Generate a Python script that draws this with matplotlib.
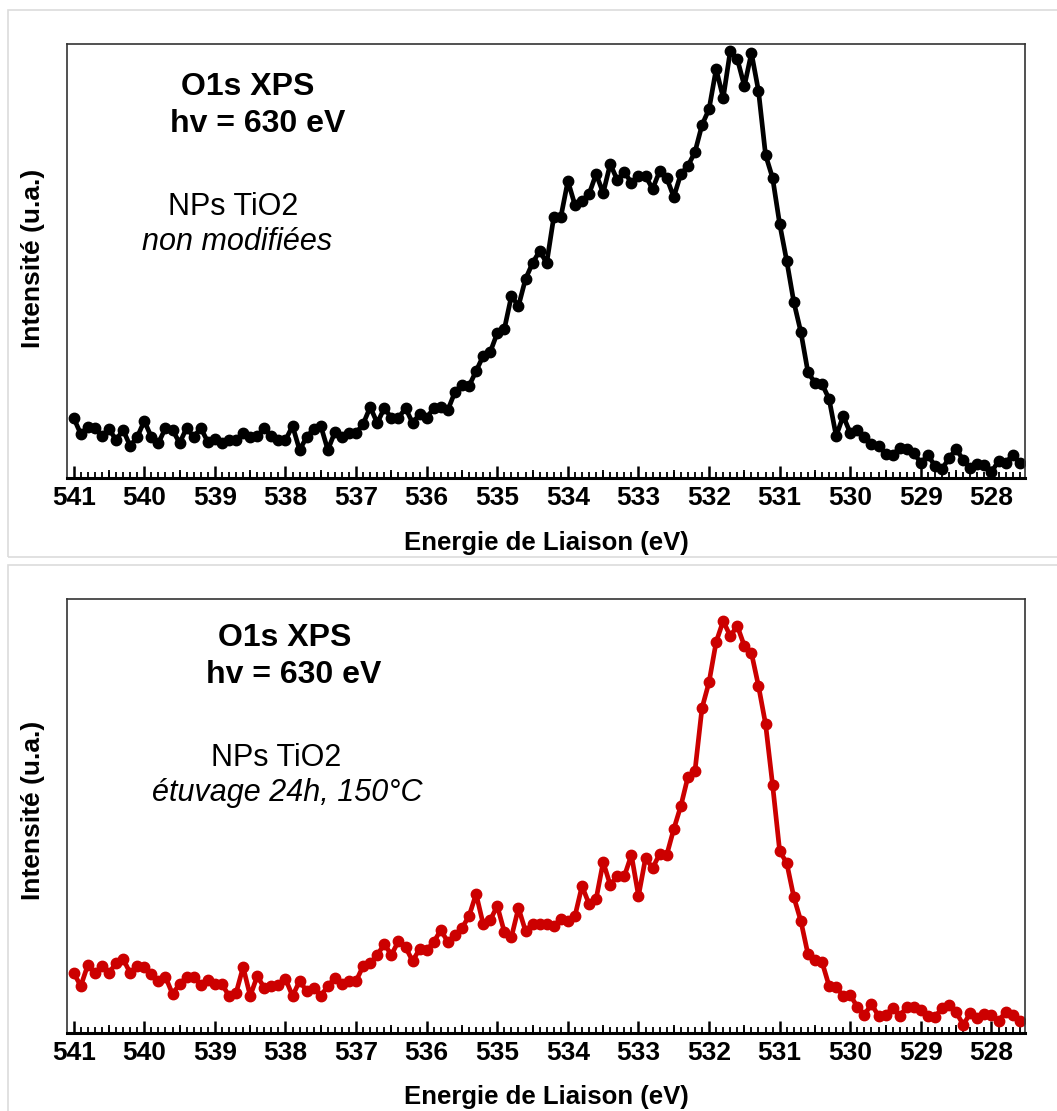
import numpy as np
import matplotlib
matplotlib.use("Agg")
import matplotlib.pyplot as plt
from matplotlib.patches import Rectangle
from matplotlib.ticker import MultipleLocator

plt.rcParams['font.family'] = ['Liberation Sans', 'DejaVu Sans']

W, H = 1057, 1111

# binding energy, 0.1 eV steps from 541.0 down to 527.6
energie = np.round(541.0 - 0.1 * np.arange(135), 1)

# O1s, NPs TiO2 non modifiees (u.a.)
o1s_brut = [60, 44, 51, 50, 42, 49, 38, 48, 32, 41,
            57, 41, 35, 50, 48, 35, 50, 41, 50, 36,
            39, 35, 38, 38, 45, 41, 42, 50, 42, 38,
            38, 52, 28, 41, 49, 52, 28, 46, 41, 45,
            45, 54, 71, 55, 70, 60, 60, 70, 55, 64,
            60, 70, 71, 68, 86, 93, 92, 107, 122, 126,
            145, 149, 182, 172, 199, 215, 227, 215, 261, 261,
            297, 273, 277, 284, 304, 285, 314, 298, 306, 295,
            302, 302, 289, 307, 300, 281, 304, 312, 326, 353,
            369, 409, 380, 427, 419, 392, 425, 387, 323, 300,
            254, 217, 176, 146, 106, 95, 94, 79, 42, 62,
            45, 48, 41, 34, 32, 24, 23, 30, 29, 25,
            15, 23, 12, 9, 20, 29, 18, 10, 14, 13,
            6, 17, 15, 23, 15]

# O1s, NPs TiO2 etuvage 24h 150 C (u.a.)
o1s_etuve = [60, 47, 68, 60, 67, 60, 70, 74, 60, 67,
             66, 59, 52, 56, 39, 49, 56, 56, 48, 53,
             49, 49, 37, 40, 66, 37, 57, 45, 47, 48,
             54, 37, 52, 42, 45, 37, 47, 55, 49, 52,
             52, 67, 70, 78, 89, 78, 92, 86, 72, 84,
             83, 91, 103, 91, 98, 105, 117, 139, 109, 113,
             127, 101, 96, 125, 102, 109, 109, 109, 107, 114,
             112, 117, 147, 129, 134, 171, 148, 157, 157, 178,
             137, 175, 165, 179, 178, 204, 227, 256, 262, 325,
             351, 391, 412, 397, 407, 387, 380, 347, 309, 248,
             182, 170, 136, 112, 79, 73, 71, 47, 46, 37,
             38, 26, 18, 29, 17, 18, 25, 17, 26, 26,
             23, 17, 16, 25, 28, 21, 8, 20, 15, 19,
             18, 12, 21, 18, 12]

titre = ["O1s XPS", "hv = 630 eV"]
echantillons = [("NPs TiO2", "non modifiées"), ("NPs TiO2", "étuvage 24h, 150°C")]
couleurs = ["black", "#cc0000"]

fig = plt.figure(figsize=(W / 100, H / 100), dpi=100)


def fx(px):
    return px / W


def fy(py):
    return 1 - py / H


# light frames around the two panels
fig.patches.append(Rectangle((fx(8), fy(557)), fx(1060) - fx(8), fy(10) - fy(557),
                             transform=fig.transFigure, fill=False, ec="#dcdcdc", lw=1.2))
fig.patches.append(Rectangle((fx(8), fy(1115)), fx(1060) - fx(8), fy(565) - fy(1115),
                             transform=fig.transFigure, fill=False, ec="#dcdcdc", lw=1.2))


def panneau(rect, y, couleur, echant, pos_txt, y_lab, y_xlabel):
    ax = fig.add_axes(rect)
    ax.plot(energie, y, color=couleur, lw=3.4, marker="o", ms=7.5, mec=couleur, mfc=couleur)
    ax.set_xlim(541.095, 527.525)
    ax.set_ylim(0, 434)
    ax.set_yticks([])
    ax.xaxis.set_major_locator(MultipleLocator(1))
    ax.xaxis.set_minor_locator(MultipleLocator(0.1))
    ax.tick_params(axis="x", which="major", direction="in", length=9, width=1.8,
                   labelsize=19, pad=6, color="black")
    ax.tick_params(axis="x", which="minor", direction="in", length=4, width=1.3, color="black")
    for lab in ax.get_xticklabels():
        lab.set_fontweight("bold")
    sec = ax.secondary_xaxis("bottom")
    sec.set_xticks(np.arange(540.5, 527.5, -1.0))
    sec.tick_params(direction="in", length=6, width=1.3, labelbottom=False)
    sec.spines["bottom"].set_visible(False)
    for s in ["top", "left", "right"]:
        ax.spines[s].set_color("#333333")
        ax.spines[s].set_linewidth(1.2)
    ax.spines["bottom"].set_linewidth(2.2)
    ax.spines["bottom"].set_color("black")

    (x1, y1), (x2, y2), (x3, y3), (x4, y4) = pos_txt
    fig.text(fx(x1), fy(y1), titre[0], ha="center", va="center", fontsize=23, fontweight="bold")
    fig.text(fx(x2), fy(y2), titre[1], ha="center", va="center", fontsize=23, fontweight="bold")
    fig.text(fx(x3), fy(y3), echant[0], ha="center", va="center", fontsize=22)
    fig.text(fx(x4), fy(y4), echant[1], ha="center", va="center", fontsize=22, style="italic")
    fig.text(fx(33), fy(y_lab), "Intensité (u.a.)", ha="center", va="center",
             rotation=90, fontsize=19, fontweight="bold")
    fig.text(fx(546), fy(y_xlabel), "Energie de Liaison (eV)", ha="center", va="center",
             fontsize=18.5, fontweight="bold")
    return ax


panneau([fx(67), fy(478), fx(1025) - fx(67), fy(44) - fy(478)], o1s_brut, couleurs[0],
        echantillons[0], [(248, 87), (258, 124), (233, 207), (237, 242)], 258, 543)
panneau([fx(67), fy(1033), fx(1025) - fx(67), fy(599) - fy(1033)], o1s_etuve, couleurs[1],
        echantillons[1], [(285, 638), (294, 675), (276, 758), (287, 793)], 810, 1097)

fig.savefig("out.png", dpi=100)
